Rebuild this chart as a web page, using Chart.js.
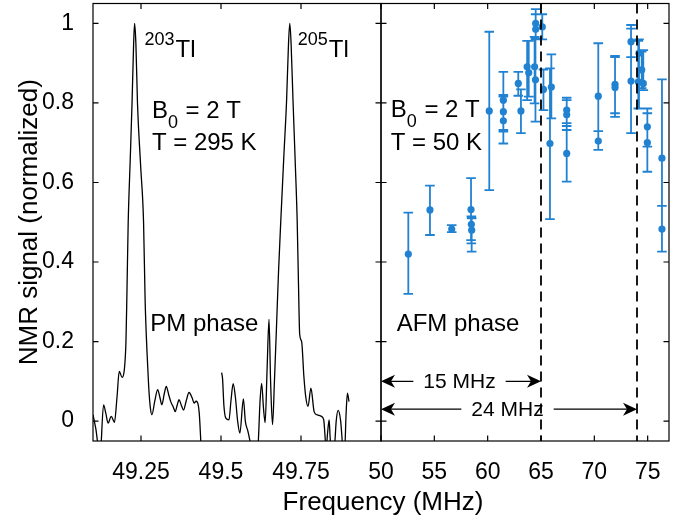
<!DOCTYPE html>
<html>
<head>
<meta charset="utf-8">
<script src="https://cdn.jsdelivr.net/npm/chart.js@4.4.0/dist/chart.umd.min.js"></script>
<style>
html, body { margin: 0; padding: 0; background: #ffffff; }
#wrap { position: relative; width: 682px; height: 526px; }
#wrap canvas { position: absolute; left: 0; top: 0; }
</style>
</head>
<body>
<div id="wrap">
    <canvas id="pmChart" width="682" height="526"></canvas>
    <canvas id="afmChart" width="682" height="526"></canvas>
</div>
<script>
const FONT = "'Liberation Sans', Arial, sans-serif";
Chart.defaults.color = "#000000";
Chart.defaults.font.family = FONT;
Chart.defaults.devicePixelRatio = 1;
Chart.defaults.animation = false;

// ---- data ----
const yTicks = [0, 0.2, 0.4, 0.6, 0.8, 1];
const pmTicks = [49.25, 49.5, 49.75];
const afmTicks = [50, 55, 60, 65, 70, 75];

// room temperature spectrum (PM phase)
const pmFreq = [
    49.100, 49.109, 49.122, 49.133, 49.140, 49.147, 49.157, 49.167, 49.175, 49.182,
    49.191, 49.198, 49.203, 49.206, 49.210, 49.216, 49.222, 49.227, 49.230, 49.234,
    49.239, 49.249, 49.258, 49.263, 49.269, 49.274, 49.279, 49.284, 49.293, 49.302,
    49.309, 49.315, 49.323, 49.329, 49.337, 49.343, 49.351, 49.357, 49.363, 49.369,
    49.376, 49.383, 49.391, 49.400, 49.410, 49.416, 49.422, 49.426, 49.432, 49.439,
    49.444, 49.470,
    49.502, 49.505, 49.509, 49.515, 49.525, 49.531, 49.538, 49.545, 49.552, 49.559,
    49.570, 49.576, 49.584, 49.596, 49.606, 49.616, 49.622, 49.627, 49.633, 49.638,
    49.644, 49.650, 49.655, 49.661, 49.667, 49.674, 49.680, 49.687, 49.696, 49.705,
    49.711, 49.715, 49.719, 49.725, 49.732, 49.738, 49.742, 49.746, 49.752, 49.759,
    49.765, 49.772, 49.781, 49.791, 49.800, 49.814, 49.821, 49.829, 49.833, 49.838,
    49.841, 49.845, 49.855, 49.860, 49.866, 49.874, 49.880, 49.886, 49.891, 49.895,
    49.900
];
const pmSignal = [
    0.016, -0.02, -0.09, 0.041, 0.02, -0.005, 0.012, -0.003, 0.06, 0.125,
    0.11, 0.13, 0.2, 0.32, 0.5, 0.65, 0.8, 0.95, 1.0, 0.95,
    0.8, 0.64, 0.5, 0.3, 0.17, 0.087, 0.035, 0.016, 0.05, 0.079,
    0.06, 0.041, 0.07, 0.087, 0.065, 0.049, 0.035, 0.024, 0.04, 0.054,
    0.04, 0.028, 0.05, 0.072, 0.058, 0.045, 0.05, 0.048, 0.02, -0.08,
    -0.12, null,
    0.122, 0.105, 0.04, 0.0075, 0.003, 0.05, 0.094, 0.06, 0.0, -0.03,
    0.056, 0.0, -0.025, -0.07, -0.1, -0.06, 0.05, 0.095, 0.03, -0.004,
    0.13, 0.256, 0.1, -0.009, 0.1, 0.25, 0.38, 0.506, 0.66, 0.807,
    0.95, 1.0, 0.95, 0.807, 0.65, 0.506, 0.35, 0.217, 0.2, 0.112,
    0.06, 0.037, 0.083, 0.024, 0.016, 0.012, 0.003, -0.07, -0.03, 0.003,
    -0.04, -0.08, -0.06, 0.0, 0.027, 0.0, -0.06, -0.08, 0.02, 0.07,
    0.049
];

// 50 K points with error bars (AFM phase)
const afmFreq = [
    52.56, 54.59, 56.63, 58.44, 58.47, 58.50, 60.15, 61.47, 61.47, 61.47,
    62.87, 63.12, 63.70, 63.85, 64.40, 64.48, 64.50, 64.50, 65.12, 65.23,
    65.84, 65.97, 67.41, 67.41, 67.41, 70.37, 70.37, 71.94, 71.94, 73.44,
    73.44, 74.12, 74.19, 74.44, 74.59, 74.97, 74.97, 76.34, 76.34
];
const afmSignal = [
    0.42, 0.531, 0.483, 0.532, 0.495, 0.48, 0.78, 0.807, 0.778, 0.755,
    0.849, 0.78, 0.891, 0.876, 0.891, 0.858, 1.0, 0.985, 0.991, 0.834,
    0.698, 0.84, 0.782, 0.77, 0.673, 0.817, 0.704, 0.847, 0.839, 0.954,
    0.855, 0.853, 0.925, 0.883, 0.849, 0.74, 0.70, 0.661, 0.483
];
const afmLow = [
    0.32, 0.468, 0.475, 0.455, 0.447, 0.426, 0.581, 0.732, 0.728, 0.698,
    0.818, 0.724, 0.807, 0.816, 0.799, 0.753, 0.96, 0.96, 0.96, 0.782,
    0.508, 0.761, 0.742, 0.732, 0.602, 0.729, 0.682, 0.774, 0.765, 0.915,
    0.724, 0.786, 0.786, 0.837, 0.832, 0.627, 0.69, 0.541, 0.426
];
const afmHigh = [
    0.524, 0.592, 0.493, 0.611, 0.515, 0.51, 0.979, 0.878, 0.82, 0.816,
    0.878, 0.834, 0.956, 0.956, 0.966, 0.962, 1.036, 1.023, 1.023, 0.884,
    0.887, 0.922, 0.813, 0.807, 0.749, 0.95, 0.729, 0.918, 0.915, 0.996,
    0.987, 0.956, 0.96, 0.929, 0.933, 0.774, 0.786, 0.859, 0.541
];

// dashed markers: 15 MHz and 24 MHz above 50 MHz
const markerFreq = [65, 74];
const markerArrowY = [0.1, 0.03];

// ---- layout ----
const W = 682, H = 526;
const AREA = { left: 93, split: 381, right: 669, top: 3.5, bottom: 441 };
const TICK = 5.5;
const BLUE = "#2282d2";

const pmNotes = [
    { x: 49.261, y: 0.915, parts: [["203", "sup"], ["Tl", ""]] },
    { x: 49.740, y: 0.915, parts: [["205", "sup"], ["Tl", ""]] },
    { x: 49.284, y: 0.761, parts: [["B", ""], ["0", "sub"], [" = 2 T", ""]] },
    { x: 49.284, y: 0.682, parts: [["T = 295 K", ""]] },
    { x: 49.279, y: 0.227, parts: [["PM phase", ""]] }
];
const afmNotes = [
    { x: 50.91, y: 0.765, parts: [["B", ""], ["0", "sub"], [" = 2 T", ""]] },
    { x: 50.91, y: 0.682, parts: [["T = 50 K", ""]] },
    { x: 51.47, y: 0.227, parts: [["AFM phase", ""]] }
];

function drawRich(ctx, x, y, parts) {
    let cx = x;
    parts.forEach(([txt, kind]) => {
        const size = kind ? 18 : 24;
        const dy = kind === "sup" ? -12 : kind === "sub" ? 10 : 0;
        ctx.font = size + "px " + FONT;
        ctx.fillText(txt, cx, y + dy);
        cx += ctx.measureText(txt).width + (kind ? 1 : 0);
    });
}

function drawNotes(chart, notes) {
    const { ctx, scales: { x, y } } = chart;
    ctx.save();
    ctx.fillStyle = "#000000";
    ctx.textAlign = "left";
    ctx.textBaseline = "alphabetic";
    notes.forEach(n => drawRich(ctx, x.getPixelForValue(n.x), y.getPixelForValue(n.y), n.parts));
    ctx.restore();
}

function drawFrame(chart, xTicks) {
    const { ctx, chartArea: a, scales: { x, y } } = chart;
    ctx.save();
    ctx.strokeStyle = "#000000";
    ctx.lineWidth = 1.2;
    ctx.strokeRect(a.left, a.top, a.right - a.left, a.bottom - a.top);
    ctx.beginPath();
    xTicks.forEach(v => {
        const px = x.getPixelForValue(v);
        ctx.moveTo(px, a.bottom);
        ctx.lineTo(px, a.bottom - TICK);
        ctx.moveTo(px, a.top);
        ctx.lineTo(px, a.top + TICK);
    });
    yTicks.forEach(v => {
        const py = y.getPixelForValue(v);
        ctx.moveTo(a.left, py);
        ctx.lineTo(a.left + TICK, py);
        ctx.moveTo(a.right, py);
        ctx.lineTo(a.right - TICK, py);
    });
    ctx.stroke();
    ctx.restore();
}

function arrowHead(ctx, x, y, dir) {
    ctx.beginPath();
    ctx.moveTo(x, y);
    ctx.lineTo(x - dir * 14, y - 6.5);
    ctx.lineTo(x - dir * 10, y);
    ctx.lineTo(x - dir * 14, y + 6.5);
    ctx.closePath();
    ctx.fill();
}

// keep tick labels from pushing the plot area around
function noScalePadding(s) {
    s.paddingTop = 0;
    s.paddingBottom = 0;
    s.paddingLeft = 0;
    s.paddingRight = 0;
}

const pmDecor = {
    id: "pmDecor",
    afterDraw(chart) {
        drawFrame(chart, pmTicks);
        drawNotes(chart, pmNotes);
    }
};

const afmDecor = {
    id: "afmDecor",
    beforeDatasetsDraw(chart) {
        const { ctx, scales: { x, y } } = chart;
        ctx.save();
        ctx.strokeStyle = BLUE;
        ctx.lineWidth = 1.8;
        ctx.beginPath();
        afmFreq.forEach((f, i) => {
            const px = x.getPixelForValue(f);
            const lo = y.getPixelForValue(afmLow[i]);
            const hi = y.getPixelForValue(afmHigh[i]);
            ctx.moveTo(px, lo);
            ctx.lineTo(px, hi);
            ctx.moveTo(px - 4.8, lo);
            ctx.lineTo(px + 4.8, lo);
            ctx.moveTo(px - 4.8, hi);
            ctx.lineTo(px + 4.8, hi);
        });
        ctx.stroke();
        ctx.restore();
    },
    afterDraw(chart) {
        const { ctx, chartArea: a, scales: { x, y } } = chart;
        ctx.save();
        // dashed markers
        ctx.strokeStyle = "#000000";
        ctx.lineWidth = 1.8;
        ctx.setLineDash([10, 6]);
        ctx.beginPath();
        markerFreq.forEach(f => {
            const px = x.getPixelForValue(f);
            ctx.moveTo(px, a.top);
            ctx.lineTo(px, a.bottom);
        });
        ctx.stroke();
        ctx.setLineDash([]);

        // arrows from 50 MHz to each marker
        ctx.lineWidth = 1.2;
        ctx.fillStyle = "#000000";
        ctx.font = "21px " + FONT;
        ctx.textAlign = "center";
        ctx.textBaseline = "middle";
        const x0 = x.getPixelForValue(afmTicks[0]);
        markerFreq.forEach((f, i) => {
            const x1 = x.getPixelForValue(f);
            const py = y.getPixelForValue(markerArrowY[i]);
            const label = (f - afmTicks[0]) + " MHz";
            const w = ctx.measureText(label).width;
            const cx = (x0 + x1) / 2 - 1.5;
            ctx.beginPath();
            ctx.moveTo(x0 + 8, py);
            ctx.lineTo(cx - w / 2 - 10, py);
            ctx.moveTo(cx + w / 2 + 10, py);
            ctx.lineTo(x1 - 8, py);
            ctx.stroke();
            arrowHead(ctx, x0, py, -1);
            arrowHead(ctx, x1, py, 1);
            ctx.fillText(label, cx, py + 1);
        });
        ctx.restore();

        drawFrame(chart, afmTicks);
        drawNotes(chart, afmNotes);

        // shared x title, centred on the panel split
        ctx.save();
        ctx.fillStyle = "#000000";
        ctx.font = "26px " + FONT;
        ctx.textAlign = "center";
        ctx.textBaseline = "alphabetic";
        ctx.fillText("Frequency (MHz)", a.left + 2, 510);
        ctx.restore();
    }
};

new Chart(document.getElementById("pmChart"), {
    type: "line",
    data: {
        datasets: [{
            data: pmFreq.map((f, i) => ({ x: f, y: pmSignal[i] })),
            borderColor: "#000000",
            borderWidth: 1.3,
            pointRadius: 0,
            cubicInterpolationMode: "monotone",
            spanGaps: false
        }]
    },
    options: {
        responsive: false,
        animation: false,
        events: [],
        layout: {
            autoPadding: false,
            padding: { left: 0, top: AREA.top, right: W - AREA.split, bottom: 0 }
        },
        plugins: {
            legend: { display: false },
            tooltip: { enabled: false }
        },
        scales: {
            x: {
                type: "linear",
                min: 49.1,
                max: 50.0,
                grid: { display: false },
                border: { display: false },
                afterBuildTicks: s => { s.ticks = pmTicks.map(v => ({ value: v })); },
                afterFit: s => { s.height = H - AREA.bottom; noScalePadding(s); },
                ticks: {
                    padding: 10,
                    maxRotation: 0,
                    autoSkip: false,
                    font: { size: 23 },
                    callback: v => String(v)
                }
            },
            y: {
                min: -0.05,
                max: 1.05,
                grid: { display: false },
                border: { display: false },
                afterBuildTicks: s => { s.ticks = yTicks.map(v => ({ value: v })); },
                afterFit: s => { s.width = AREA.left; noScalePadding(s); },
                ticks: {
                    padding: 11,
                    font: { size: 23 },
                    callback: v => String(v)
                },
                title: {
                    display: true,
                    text: "NMR signal (normalized)",
                    font: { size: 26 },
                    padding: { top: 14, bottom: 0 }
                }
            }
        }
    },
    plugins: [pmDecor]
});

new Chart(document.getElementById("afmChart"), {
    type: "scatter",
    data: {
        datasets: [{
            data: afmFreq.map((f, i) => ({ x: f, y: afmSignal[i] })),
            backgroundColor: BLUE,
            borderWidth: 0,
            pointRadius: 3.6,
            showLine: false
        }]
    },
    options: {
        responsive: false,
        animation: false,
        events: [],
        layout: {
            autoPadding: false,
            padding: { left: AREA.split, top: AREA.top, right: W - AREA.right, bottom: 0 }
        },
        plugins: {
            legend: { display: false },
            tooltip: { enabled: false }
        },
        scales: {
            x: {
                type: "linear",
                min: 50,
                max: 77,
                grid: { display: false },
                border: { display: false },
                afterBuildTicks: s => { s.ticks = afmTicks.map(v => ({ value: v })); },
                afterFit: s => { s.height = H - AREA.bottom; noScalePadding(s); },
                ticks: {
                    padding: 10,
                    maxRotation: 0,
                    autoSkip: false,
                    font: { size: 23 },
                    callback: v => String(v)
                }
            },
            y: {
                display: false,
                min: -0.05,
                max: 1.05
            }
        }
    },
    plugins: [afmDecor]
});
</script>
</body>
</html>
